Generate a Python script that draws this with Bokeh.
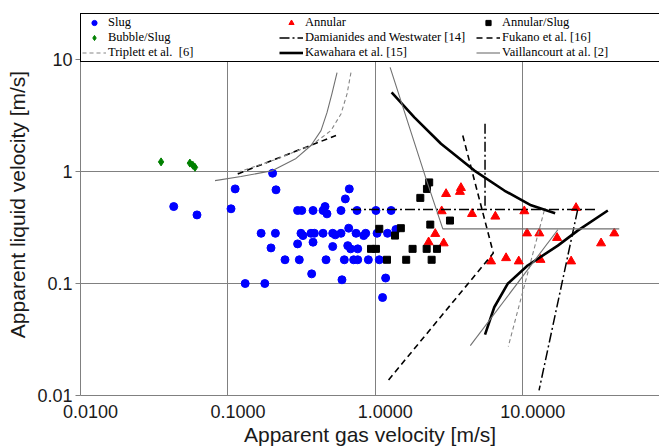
import math
from bokeh.plotting import figure
from bokeh.models import Range1d, FixedTicker, Legend, LegendItem, Title
from bokeh.embed import file_html
from bokeh.resources import INLINE

# ---------------- data ----------------
slug_x = [0.112, 0.0429, 0.0617, 0.105, 0.131,
          0.201, 0.212, 0.297, 0.317, 0.378, 0.442, 0.456, 0.470, 0.585, 0.626, 0.666,
          0.751, 1.01, 1.28,
          0.168, 0.210, 0.313, 0.323, 0.366, 0.386, 0.442, 0.514, 0.535, 0.585, 0.660,
          0.74, 0.834, 0.861, 1.028, 1.21, 1.38,
          0.196, 0.297, 0.378, 0.514, 0.65, 0.68, 0.76,
          0.244, 0.305, 0.463, 0.616, 0.713, 0.760, 0.897, 1.064,
          0.370, 0.594, 0.178, 1.175, 1.12]
slug_y = [0.70, 0.487, 0.41, 0.465, 0.10,
          0.966, 0.687, 0.449, 0.449, 0.449, 0.449, 0.487, 0.419, 0.449, 0.570, 0.70,
          0.449, 0.449, 0.449,
          0.281, 0.281, 0.281, 0.268, 0.281, 0.281, 0.281, 0.281, 0.272, 0.281, 0.312,
          0.281, 0.268, 0.281, 0.281, 0.281, 0.304,
          0.208, 0.226, 0.234, 0.214, 0.218, 0.204, 0.204,
          0.163, 0.163, 0.163, 0.163, 0.163, 0.163, 0.163, 0.163,
          0.122, 0.108, 0.10, 0.112, 0.075]

bubble_x = [0.0352, 0.0552, 0.0578, 0.0598]
bubble_y = [1.22, 1.19, 1.14, 1.09]

annular_x = [3.81, 3.75, 3.02, 2.82, 4.53, 6.52, 10.25, 23.0, 2.55, 2.30, 2.91,
             10.7, 12.97, 17.1, 34.0, 41.8, 6.1, 7.71, 9.4, 13.2, 21.3]
annular_y = [0.715, 0.66, 0.632, 0.443, 0.419, 0.397, 0.443, 0.474, 0.278, 0.234, 0.229,
             0.281, 0.281, 0.256, 0.229, 0.281, 0.158, 0.169, 0.158, 0.163, 0.158]

annslug_x = [2.32, 2.24, 2.02, 1.064, 1.49, 1.36, 2.36, 3.21, 0.935, 1.01, 1.2,
             1.79, 2.23, 2.62, 1.62, 2.41]
annslug_y = [0.80, 0.70, 0.582, 0.308, 0.312, 0.268, 0.336, 0.365, 0.204, 0.204, 0.163,
             0.204, 0.204, 0.204, 0.163, 0.163]

dam_xs = [[0.684, 32.3], [5.55, 5.55], [23.6, 12.9]]
dam_ys = [[0.458, 0.458], [2.67, 0.458], [0.458, 0.0111]]

fuk_xs = [[0.1166, 0.541], [3.92, 6.32, 1.22]]
fuk_ys = [[0.953, 2.10], [2.10, 0.187, 0.0136]]

tri_xs = [[0.1166, 0.206, 0.366, 0.50, 0.585, 0.643, 0.684], [14.0, 7.98]]
tri_ys = [[0.986, 1.27, 1.71, 2.32, 3.27, 4.94, 7.7], [0.448, 0.0274]]

kaw_xs = [[1.29, 1.84, 2.79, 4.70, 7.5, 11.4, 16.6],
          [5.55, 6.41, 7.9, 10.8, 17.3, 23.6, 37.8]]
kaw_ys = [[5.1, 3.05, 1.77, 1.02, 0.677, 0.50, 0.424],
          [0.035, 0.0614, 0.0994, 0.145, 0.218, 0.297, 0.449]]

vai_xs = [[0.0818, 0.1227, 0.201, 0.29, 0.366, 0.428, 0.47, 0.508, 0.55],
          [1.26, 2.21, 2.87, 45.2], [17.3, 4.41]]
vai_ys = [[0.83, 0.902, 1.02, 1.31, 1.71, 2.32, 3.36, 4.97, 7.65],
          [8.53, 0.861, 0.308, 0.308], [0.302, 0.0279]]

x_ticks = [0.01, 0.1, 1, 10]
x_tick_labels = ["0.0100", "0.1000", "1.0000", "10.0000"]
y_ticks = [0.01, 0.1, 1, 10]
y_tick_labels = ["0.01", "0.1", "1", "10"]

# ---------------- layout ----------------
W, H = 659, 448
ML, MR, MT, MB = 80, 0, 13, 53
X0, X1 = 0.01, 84.7
Y0, Y1 = 0.01, 25.8
FRAME_W = W - ML - MR
PX_PER_DECADE_X = FRAME_W / (math.log10(X1) - math.log10(X0))
LABEL_SHIFT_PX = 10
shift = 10 ** (LABEL_SHIFT_PX / PX_PER_DECADE_X)

SANS = "Liberation Sans"
SERIF = "Liberation Serif"
GRID = "#808080"
TXT = "#1a1a1a"

p = figure(width=W, height=H, x_axis_type="log", y_axis_type="log",
           x_range=Range1d(X0, X1), y_range=Range1d(Y0, Y1),
           output_backend="svg", toolbar_location=None,
           min_border_left=ML, min_border_right=MR,
           min_border_top=MT, min_border_bottom=MB)
p.outline_line_color = None

# grid
p.xgrid.ticker = FixedTicker(ticks=x_ticks)
p.ygrid.ticker = FixedTicker(ticks=y_ticks)
for g in (p.xgrid, p.ygrid):
    g.grid_line_color = GRID
    g.grid_line_width = 1
    g.minor_grid_line_color = None

# x axis: labels sit a little right of their grid line, as in the reference
label_ticks = [t * shift for t in x_ticks]
p.xaxis.ticker = FixedTicker(ticks=label_ticks)
p.xaxis.major_label_overrides = {lt: s for lt, s in zip(label_ticks, x_tick_labels)}
p.xaxis.major_tick_out = 0
p.xaxis.major_tick_in = 0
p.xaxis.minor_tick_line_color = None
p.xaxis.major_label_standoff = 9

p.yaxis.ticker = FixedTicker(ticks=y_ticks)
p.yaxis.major_label_overrides = {t: s for t, s in zip(y_ticks, y_tick_labels)}
p.yaxis.major_tick_out = 5
p.yaxis.major_tick_in = 0
p.yaxis.minor_tick_line_color = None
p.yaxis.major_label_standoff = 3
p.yaxis.axis_label = "Apparent liquid velocity [m/s]"
p.yaxis.axis_label_standoff = 5

for ax in (p.xaxis, p.yaxis):
    ax.axis_line_color = GRID
    ax.major_tick_line_color = GRID
    ax.major_label_text_font = SANS
    ax.major_label_text_font_size = "18px"
    ax.major_label_text_color = TXT
    ax.axis_label_text_font = SANS
    ax.axis_label_text_font_size = "21px"
    ax.axis_label_text_font_style = "normal"
    ax.axis_label_text_color = TXT

# x-axis title, centred a little right of the frame centre as in the reference
p.add_layout(Title(text="Apparent gas velocity [m/s]", align="center", offset=30,
                   standoff=0, text_font=SANS, text_font_size="21px",
                   text_font_style="normal", text_color=TXT), "below")

# ---------------- glyphs ----------------
r_slug = p.scatter(slug_x, slug_y, marker="circle", size=8, color="#0000ff")
r_ann = p.scatter(annular_x, annular_y, marker="triangle", size=9, color="#ff0000")
r_as = p.scatter(annslug_x, annslug_y, marker="square", size=7, color="#000000")
r_bub = p.scatter(bubble_x, bubble_y, marker="diamond", size=8, color="#008000")

r_dam = p.multi_line(dam_xs, dam_ys, line_color="black", line_width=1.5, line_dash="10 3 2 3")
r_fuk = p.multi_line(fuk_xs, fuk_ys, line_color="black", line_width=1.6, line_dash="6 4")
r_tri = p.multi_line(tri_xs, tri_ys, line_color="#858585", line_width=1.1, line_dash="4 3")
r_kaw = p.multi_line(kaw_xs, kaw_ys, line_color="black", line_width=2.6)
r_vai = p.multi_line(vai_xs, vai_ys, line_color="#707070", line_width=1.1)

legend = Legend(items=[
    LegendItem(label="Slug", renderers=[r_slug]),
    LegendItem(label="Annular", renderers=[r_ann]),
    LegendItem(label="Annular/Slug", renderers=[r_as]),
    LegendItem(label="Bubble/Slug", renderers=[r_bub]),
    LegendItem(label="Damianides and Westwater [14]", renderers=[r_dam]),
    LegendItem(label="Fukano et al. [16]", renderers=[r_fuk]),
    LegendItem(label="Triplett et al.  [6]", renderers=[r_tri]),
    LegendItem(label="Kawahara et al. [15]", renderers=[r_kaw]),
    LegendItem(label="Vaillancourt at al. [2]", renderers=[r_vai]),
], location="top_left", orientation="horizontal", ncols=3,
    margin=0, padding=1, spacing=0,
    glyph_width=24, glyph_height=13, label_width=171, label_height=13,
    label_standoff=2, label_text_font=SERIF, label_text_font_size="12.5px",
    label_text_color="black", border_line_color="black", border_line_alpha=1,
    border_line_width=1, background_fill_color="white", background_fill_alpha=1)
p.add_layout(legend)

open("out.html", "w").write(file_html(p, INLINE))
